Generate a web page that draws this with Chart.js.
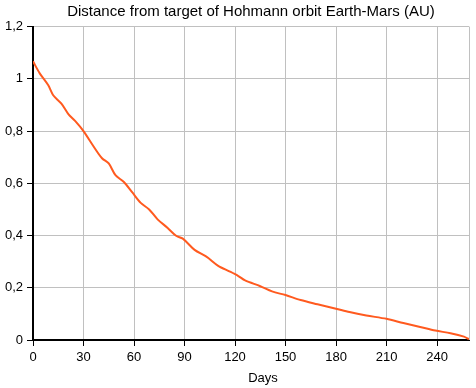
<!DOCTYPE html>
<html>
<head>
<meta charset="utf-8">
<script src="https://cdn.jsdelivr.net/npm/chart.js@4"></script>
<style>
  html, body { margin: 0; padding: 0; background: #fff; }
  #wrap { width: 476px; height: 388px; }
</style>
</head>
<body>
<div id="wrap"><canvas id="chart-canvas" width="476" height="388"></canvas></div>
<script>
// values
const days = [0, 4, 9, 12, 17, 21, 25, 30, 36, 41, 45, 49, 54, 59, 64, 69, 74, 80, 85, 89,
  96, 103, 110, 117, 122, 126, 135, 142, 150, 159, 169, 180, 188, 198, 210, 220, 230, 239, 248, 256, 259];
const distance = [1.067, 1.021, 0.976, 0.937, 0.904, 0.865, 0.839, 0.800, 0.741, 0.696, 0.676, 0.631, 0.605, 0.565,
  0.525, 0.500, 0.462, 0.429, 0.399, 0.388, 0.345, 0.319, 0.284, 0.262, 0.245, 0.228, 0.206, 0.186, 0.172,
  0.153, 0.137, 0.120, 0.107, 0.094, 0.081, 0.065, 0.050, 0.036, 0.026, 0.013, 0.003];
const xTicks = [0, 30, 60, 90, 120, 150, 180, 210, 240];
const yTicks = [0, 0.2, 0.4, 0.6, 0.8, 1, 1.2];

const fontFamily = "'Liberation Sans', Arial, sans-serif";

// right edge of the plot box and the "Days" caption (sits a bit right of centre)
const frameBorder = {
  id: "frameBorder",
  afterDraw(chart) {
    const { ctx, chartArea } = chart;
    ctx.save();
    ctx.strokeStyle = "#c0c0c0";
    ctx.lineWidth = 1;
    ctx.beginPath();
    ctx.moveTo(Math.round(chartArea.right) + 0.5, chartArea.top);
    ctx.lineTo(Math.round(chartArea.right) + 0.5, chartArea.bottom);
    ctx.stroke();

    ctx.fillStyle = "#000";
    ctx.font = "13px " + fontFamily;
    ctx.textAlign = "center";
    ctx.textBaseline = "alphabetic";
    ctx.fillText("Days", (chartArea.left + chartArea.right) / 2 + 12, 381.5);
    ctx.restore();
  },
};

const ctx = document.getElementById("chart-canvas").getContext("2d");
new Chart(ctx, {
  type: "line",
  data: {
    datasets: [
      {
        data: days.map((d, i) => ({ x: d, y: distance[i] })),
        borderColor: "#ff5a1f",
        borderWidth: 2,
        pointRadius: 0,
        tension: 0.3,
        fill: false,
      },
    ],
  },
  options: {
    responsive: false,
    animation: false,
    layout: { padding: { left: 0, right: 7, top: 0, bottom: 0 } },
    plugins: {
      legend: { display: false },
      tooltip: { enabled: false },
      title: {
        display: true,
        fullSize: false,
        text: "Distance from target of Hohmann orbit Earth-Mars (AU)",
        color: "#000",
        font: { family: fontFamily, size: 15, weight: "normal" },
        padding: { top: 3, bottom: 5.6 },
      },
    },
    scales: {
      x: {
        type: "linear",
        min: 0,
        max: 259,
        afterBuildTicks: (scale) => {
          scale.ticks = xTicks.map((v) => ({ value: v }));
        },
        afterFit: (scale) => {
          scale.height = 48;
        },
        ticks: {
          color: "#000",
          font: { family: fontFamily, size: 13 },
          padding: 4,
          maxRotation: 0,
        },
        grid: {
          color: "#c0c0c0",
          tickColor: "#000",
          tickLength: 6,
        },
        border: { color: "#000", width: 2 },
      },
      y: {
        min: 0,
        max: 1.2,
        afterBuildTicks: (scale) => {
          scale.ticks = yTicks.map((v) => ({ value: v }));
        },
        afterFit: (scale) => {
          scale.width = 33;
        },
        ticks: {
          color: "#000",
          font: { family: fontFamily, size: 13 },
          padding: 4,
          callback: (v) => String(Math.round(v * 10) / 10).replace(".", ","),
        },
        grid: {
          color: "#c0c0c0",
          tickColor: "#000",
          tickLength: 6,
        },
        border: { color: "#000", width: 2 },
      },
    },
  },
  plugins: [frameBorder],
});
</script>
</body>
</html>
